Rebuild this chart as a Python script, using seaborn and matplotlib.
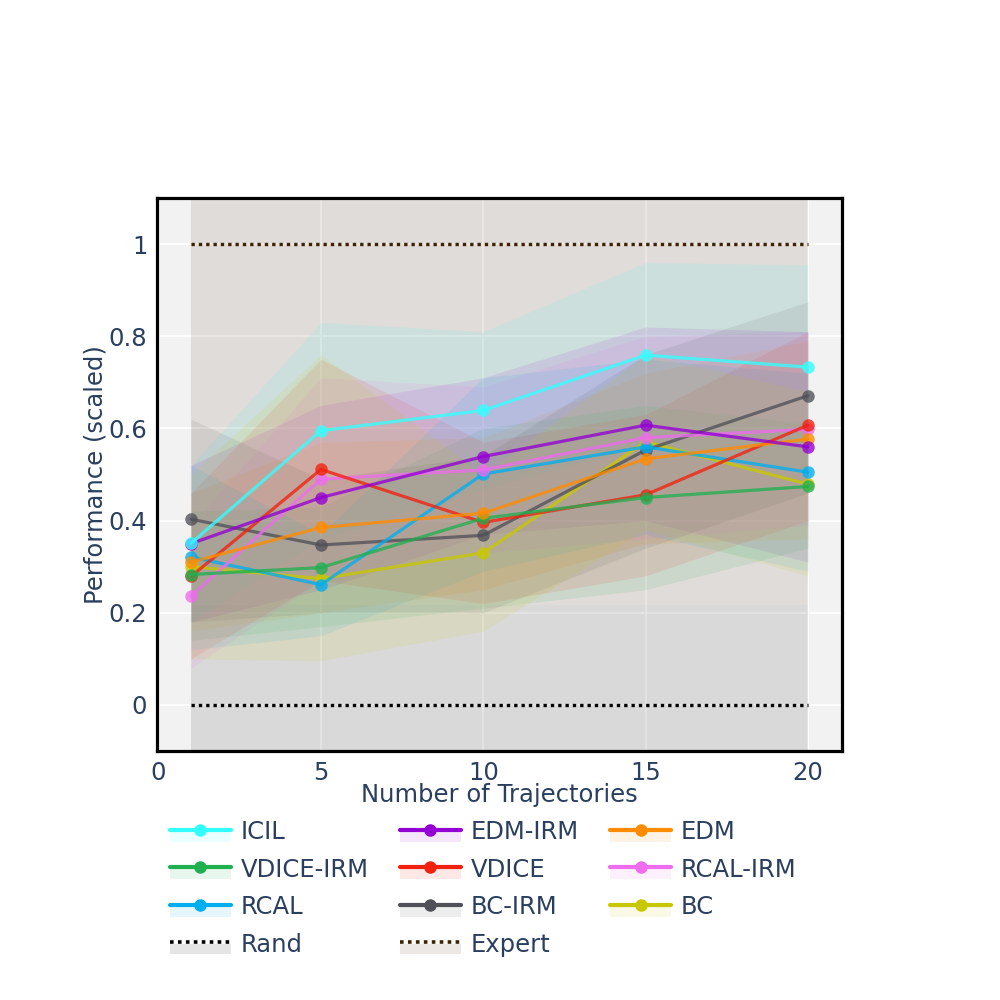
import numpy as np
import pandas as pd
import matplotlib
matplotlib.use('Agg')
import matplotlib.pyplot as plt
import seaborn as sns
from matplotlib.lines import Line2D
from matplotlib.patches import Patch, Rectangle
from matplotlib.legend_handler import HandlerTuple, HandlerPatch

# x positions (number of trajectories)
n_traj = [1, 5, 10, 15, 20]

methods = ['ICIL', 'EDM-IRM', 'EDM', 'VDICE-IRM', 'VDICE', 'RCAL-IRM', 'RCAL', 'BC-IRM', 'BC']
colors = {
    'ICIL': '#33ffff', 'EDM-IRM': '#9400d3', 'EDM': '#ff8c00',
    'VDICE-IRM': '#1fb050', 'VDICE': '#f2210f', 'RCAL-IRM': '#ee6cee',
    'RCAL': '#00aef0', 'BC-IRM': '#505058', 'BC': '#c8c800',
    'Rand': '#000000', 'Expert': '#3d2200',
}

# mean performance
icil = [0.351, 0.595, 0.639, 0.759, 0.733]
edm_irm = [0.350, 0.450, 0.539, 0.607, 0.560]
edm = [0.310, 0.385, 0.416, 0.534, 0.577]
vdice_irm = [0.283, 0.298, 0.405, 0.450, 0.474]
vdice = [0.279, 0.511, 0.396, 0.456, 0.607]
rcal_irm = [0.236, 0.490, 0.510, 0.580, 0.598]
rcal = [0.321, 0.261, 0.501, 0.560, 0.505]
bc_irm = [0.403, 0.347, 0.368, 0.553, 0.671]
bc = [0.300, 0.274, 0.330, 0.571, 0.479]

# band lower / upper bounds
icil_lo = [0.18, 0.36, 0.47, 0.56, 0.51]
icil_hi = [0.52, 0.83, 0.81, 0.96, 0.955]
edm_irm_lo = [0.18, 0.25, 0.37, 0.40, 0.31]
edm_irm_hi = [0.52, 0.65, 0.71, 0.82, 0.81]
edm_lo = [0.16, 0.20, 0.25, 0.35, 0.36]
edm_hi = [0.46, 0.57, 0.58, 0.72, 0.79]
vdice_irm_lo = [0.14, 0.17, 0.21, 0.25, 0.34]
vdice_irm_hi = [0.42, 0.43, 0.60, 0.65, 0.61]
vdice_lo = [0.10, 0.27, 0.22, 0.28, 0.40]
vdice_hi = [0.46, 0.75, 0.57, 0.63, 0.81]
rcal_irm_lo = [0.08, 0.27, 0.33, 0.36, 0.39]
rcal_irm_hi = [0.39, 0.71, 0.69, 0.80, 0.81]
rcal_lo = [0.12, 0.15, 0.29, 0.37, 0.29]
rcal_hi = [0.52, 0.37, 0.71, 0.75, 0.72]
bc_irm_lo = [0.18, 0.20, 0.20, 0.34, 0.46]
bc_irm_hi = [0.62, 0.49, 0.54, 0.76, 0.875]
bc_lo = [0.10, 0.096, 0.16, 0.38, 0.28]
bc_hi = [0.50, 0.76, 0.50, 0.76, 0.68]

# reference levels
rand = [0, 0, 0, 0, 0]
rand_lo = [-0.3, -0.3, -0.3, -0.3, -0.3]
rand_hi = [0.216, 0.216, 0.216, 0.216, 0.216]
expert = [1, 1, 1, 1, 1]
expert_lo = [0.216, 0.216, 0.216, 0.216, 0.216]
expert_hi = [1.3, 1.3, 1.3, 1.3, 1.3]

means = [icil, edm_irm, edm, vdice_irm, vdice, rcal_irm, rcal, bc_irm, bc]
lows = [icil_lo, edm_irm_lo, edm_lo, vdice_irm_lo, vdice_lo, rcal_irm_lo, rcal_lo, bc_irm_lo, bc_lo]
highs = [icil_hi, edm_irm_hi, edm_hi, vdice_irm_hi, vdice_hi, rcal_irm_hi, rcal_hi, bc_irm_hi, bc_hi]

rows = []
for m, vals in zip(methods, means):
    for x, v in zip(n_traj, vals):
        rows.append({'n': x, 'perf': v, 'method': m})
df = pd.DataFrame(rows)

ref_df = pd.DataFrame({
    'n': n_traj * 2,
    'perf': rand + expert,
    'method': ['Rand'] * 5 + ['Expert'] * 5,
})

text_color = '#2a3f5f'
sns.set_theme(style='whitegrid', rc={
    'axes.facecolor': '#f2f2f2',
    'grid.color': 'white',
    'grid.linewidth': 1.3,
    'axes.edgecolor': 'black',
    'axes.linewidth': 2.3,
    'text.color': text_color,
    'axes.labelcolor': text_color,
    'xtick.color': text_color,
    'ytick.color': text_color,
})
plt.rcParams['font.family'] = ['DejaVu Sans']

fs = 17.5

fig = plt.figure(figsize=(10, 10), dpi=100)
ax = fig.add_axes([0.157, 0.249, 0.685, 0.553])
ax.set_axisbelow(True)

# reference bands
ax.fill_between(n_traj, rand_lo, rand_hi, color=colors['Rand'], alpha=0.1, linewidth=0, zorder=1)
ax.fill_between(n_traj, expert_lo, expert_hi, color=colors['Expert'], alpha=0.1, linewidth=0, zorder=1)

# method bands
for m, lo, hi in zip(methods, lows, highs):
    ax.fill_between(n_traj, lo, hi, color=colors[m], alpha=0.1, linewidth=0, zorder=2)

sns.lineplot(data=ref_df, x='n', y='perf', hue='method', palette=colors,
             linestyle=(0, (1, 1.2)), linewidth=2.4, legend=False, ax=ax, zorder=3)

sns.lineplot(data=df[::-1], x='n', y='perf', hue='method', hue_order=methods[::-1],
             palette=colors, marker='o', markersize=9, markeredgewidth=0,
             linewidth=2.3, alpha=0.78, legend=False, ax=ax, zorder=4)

ax.set_xlim(-0.05, 21.05)
ax.set_ylim(-0.1, 1.1)
ax.set_xticks([0, 5, 10, 15, 20])
ax.set_yticks([0, 0.2, 0.4, 0.6, 0.8, 1])
ax.set_yticklabels(['0', '0.2', '0.4', '0.6', '0.8', '1'])
ax.tick_params(axis='both', length=0, labelsize=fs, pad=7)
ax.set_xlabel('Number of Trajectories', fontsize=fs, labelpad=-1)
ax.set_ylabel('Performance (scaled)', fontsize=fs, labelpad=1)
for s in ax.spines.values():
    s.set_color('black')
    s.set_linewidth(2.3)


def lower_half(legend, orig_handle, xdescent, ydescent, width, height, fontsize):
    return Rectangle((-xdescent, -ydescent), width, height / 2)


def handle(name, dotted=False):
    c = colors[name]
    patch = Patch(facecolor=c, alpha=0.1, edgecolor='none')
    if dotted:
        line = Line2D([], [], color=c, linestyle=(0, (1, 1.2)), linewidth=2.6)
    else:
        line = Line2D([], [], color=c, linewidth=3, marker='o', markersize=9,
                      markeredgewidth=0)
    return (patch, line)


order = ['ICIL', 'VDICE-IRM', 'RCAL', 'Rand',
         'EDM-IRM', 'VDICE', 'BC-IRM', 'Expert',
         'EDM', 'RCAL-IRM', 'BC']
handles = [handle(n, dotted=n in ('Rand', 'Expert')) for n in order]
fig.legend(handles, order,
           handler_map={tuple: HandlerTuple(ndivide=1, pad=0),
                        Patch: HandlerPatch(patch_func=lower_half)},
           ncol=3, loc='upper left', bbox_to_anchor=(0.17, 0.18),
           frameon=False, fontsize=fs, handlelength=2.5, handleheight=1.0,
           handletextpad=0.4, columnspacing=1.3, labelspacing=0.55,
           borderaxespad=0, borderpad=0)

fig.savefig('out.png', dpi=100, facecolor='white')
